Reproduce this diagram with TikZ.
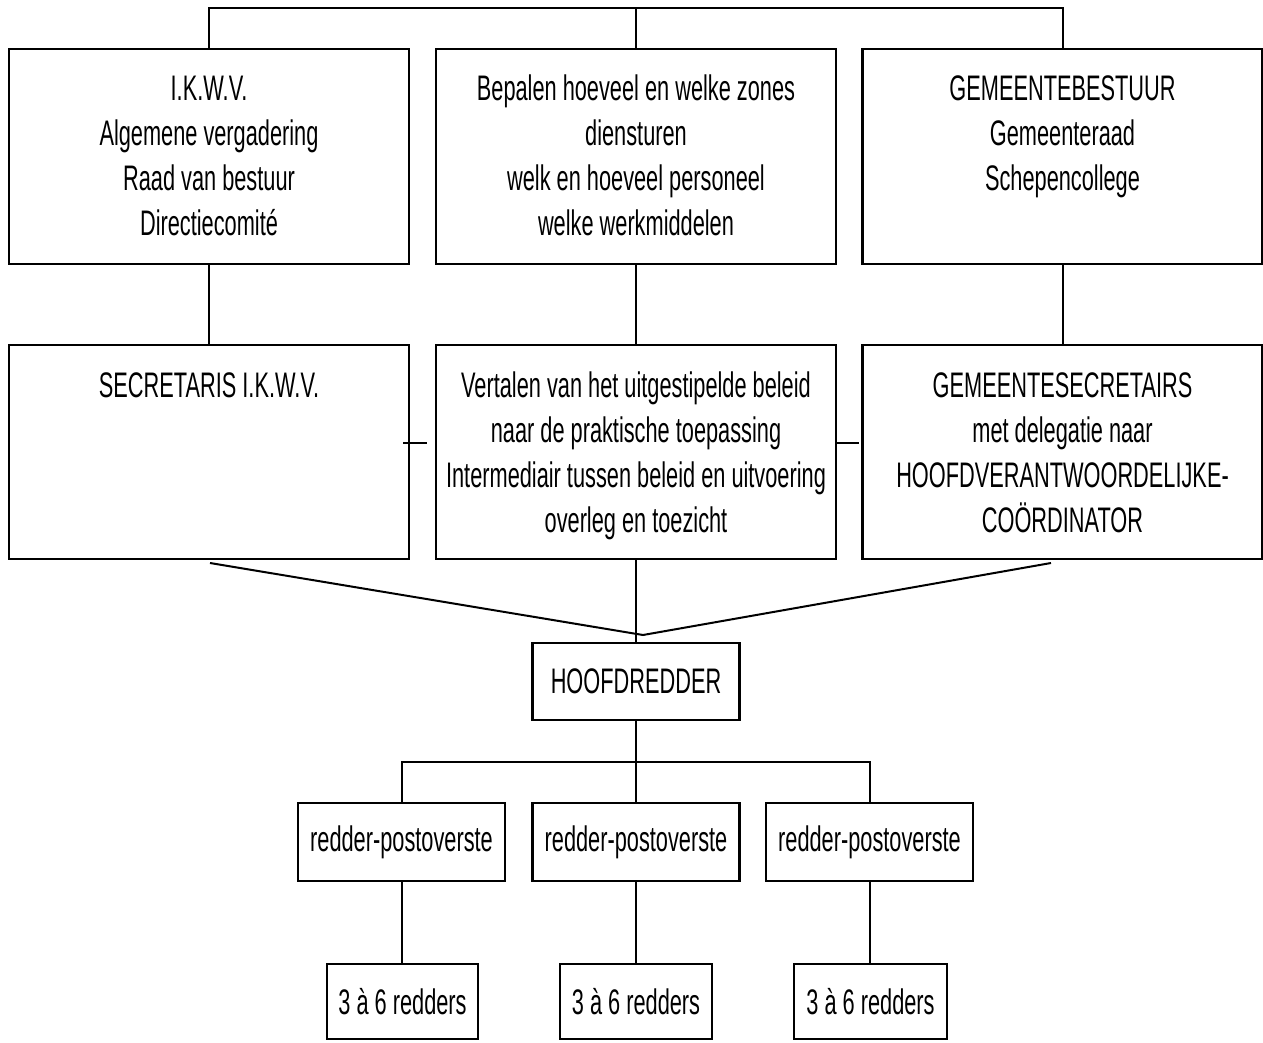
\documentclass[tikz,border=0pt]{standalone}
\usepackage{fontspec}
\setmainfont{Liberation Sans}[FakeStretch=0.613]
\begin{document}
\begin{tikzpicture}[x=1pt,y=-1pt,
  box/.style={draw, line width=2.6pt, inner sep=0pt, rectangle},
  bigbox/.style={box, minimum width=400pt},
  txt/.style={anchor=base, inner sep=0pt, font=\fontsize{35.5}{45}\selectfont},
  lbl/.style={font=\fontsize{35.5}{45}\selectfont},
  conn/.style={line width=2pt}]
\useasboundingbox (0,0) rectangle (1263,1042);

% row 1
\node[bigbox, minimum height=215pt] (ikwv) at (209,156.5) {};
\node[bigbox, minimum height=215pt] (bepalen) at (636,156.5) {};
\node[bigbox, minimum height=215pt] (gemb) at (1062.5,156.5) {};
% row 2
\node[bigbox, minimum height=214pt] (secr) at (209,452) {};
\node[bigbox, minimum height=214pt] (vertalen) at (636,452) {};
\node[bigbox, minimum height=214pt] (gems) at (1062.5,452) {};

% texts
\node[txt] (t1) at (209,100) {\parbox[t]{390pt}{\centering I.K.W.V.\\Algemene vergadering\\Raad van bestuur\\Directiecomité}};
\node[txt] (t2) at (636,100) {\parbox[t]{390pt}{\centering Bepalen hoeveel en welke zones\\diensturen\\welk en hoeveel personeel\\welke werkmiddelen}};
\node[txt] (t3) at (1062.5,100) {\parbox[t]{390pt}{\centering GEMEENTEBESTUUR\\Gemeenteraad\\Schepencollege}};
\node[txt] (t4) at (209,397) {\parbox[t]{390pt}{\centering SECRETARIS I.K.W.V.}};
\node[txt] (t5) at (636,397) {\parbox[t]{396pt}{\centering Vertalen van het uitgestipelde beleid\\naar de praktische toepassing\\Intermediair tussen beleid en uitvoering\\overleg en toezicht}};
\node[txt] (t6) at (1062.5,397) {\parbox[t]{396pt}{\centering GEMEENTESECRETAIRS\\met delegatie naar\\HOOFDVERANTWOORDELIJKE-\\COÖRDINATOR}};

% hoofdredder
\node[box, lbl, minimum width=207pt, minimum height=77pt] (hoofd) at (636,681.5) {HOOFDREDDER};

% redder-postoverste
\node[box, lbl, minimum width=207pt, minimum height=78pt] (p1) at (401.5,842) {redder-postoverste};
\node[box, lbl, minimum width=207pt, minimum height=78pt] (p2) at (636,842) {redder-postoverste};
\node[box, lbl, minimum width=207pt, minimum height=78pt] (p3) at (869.5,842) {redder-postoverste};

% redders
\node[box, lbl, minimum width=151pt, minimum height=75pt] (r1) at (402.5,1001.5) {3 à 6 redders};
\node[box, lbl, minimum width=152pt, minimum height=75pt] (r2) at (636,1001.5) {3 à 6 redders};
\node[box, lbl, minimum width=153pt, minimum height=75pt] (r3) at (870.5,1001.5) {3 à 6 redders};

% top connector
\coordinate (topl) at (209,8);
\coordinate (topr) at (1062.5,8);
\draw[conn] (ikwv.north) -- (topl) -- (topr) -- (gemb.north);
\draw[conn] (bepalen.north) -- (bepalen.north |- topl);

% row1 -> row2
\draw[conn] (ikwv.south) -- (secr.north);
\draw[conn] (bepalen.south) -- (vertalen.north);
\draw[conn] (gemb.south) -- (gems.north);

% small ticks
\coordinate (tka) at (403,443);
\coordinate (tkb) at (427,443);
\coordinate (tkc) at (837,443);
\coordinate (tkd) at (859,443);
\draw[conn] (tka) -- (tkb);
\draw[conn] (tkc) -- (tkd);

% converging lines
\coordinate (cl) at (210,563);
\coordinate (cr) at (1051,563);
\coordinate (cm) at (643,635);
\draw[conn] (cl) -- (cm) -- (cr);
\draw[conn] (vertalen.south) -- (hoofd.north);

% hoofdredder -> postoversten
\coordinate (hb) at (636,762);
\draw[conn] (hoofd.south) -- (hb);
\draw[conn] (p1.north) -- (p1.north |- hb) -- (p3.north |- hb) -- (p3.north);
\draw[conn] (hb) -- (p2.north);

% postoversten -> redders
\draw[conn] (p1.south) -- (p1.south |- r1.north);
\draw[conn] (p2.south) -- (p2.south |- r2.north);
\draw[conn] (p3.south) -- (p3.south |- r3.north);
\end{tikzpicture}
\end{document}
